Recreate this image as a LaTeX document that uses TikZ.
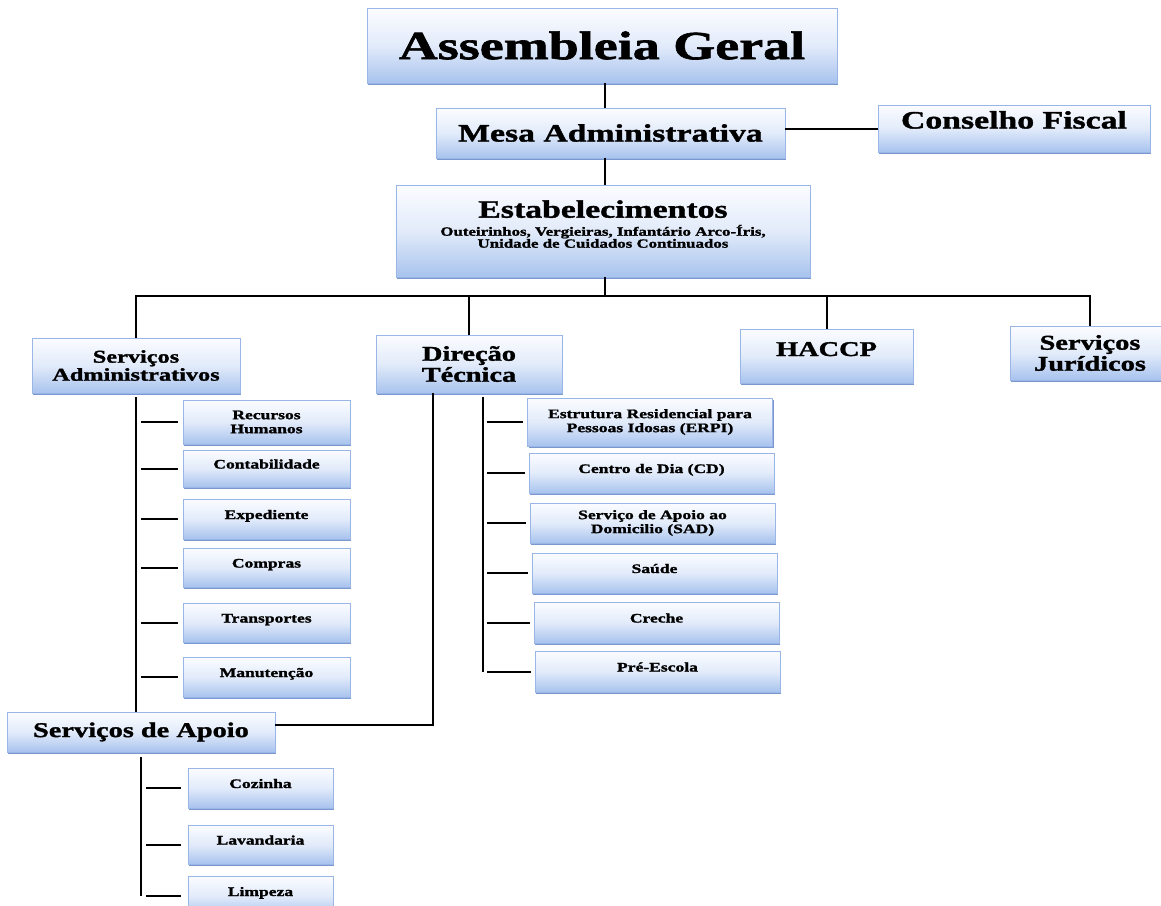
\documentclass[tikz,border=0pt]{standalone}
\usepackage{fontspec}
\usetikzlibrary{shadows}
\newfontfamily\orgfont[FakeStretch=1.35, BoldFeatures={FakeBold=1.5}]{Liberation Serif}
\definecolor{boxtop}{HTML}{FBFCFF}
\definecolor{boxmid}{HTML}{E2EBFA}
\definecolor{boxbot}{HTML}{A8C3EE}
\definecolor{boxline}{HTML}{9AB6E6}
\definecolor{boxshade}{HTML}{5A7DC4}

\begin{document}
\begin{tikzpicture}[x=1pt,y=-1pt,
	box/.style={draw=boxline, line width=0.8pt, top color=boxtop, bottom color=boxbot, middle color=boxmid, align=center, inner sep=1pt, text=black, drop shadow={shadow xshift=1.2pt, shadow yshift=-1.6pt, fill=boxshade, opacity=0.8}},
	fs/.style={font=\orgfont\bfseries\fontsize{#1}{#1}\selectfont},
	lift/.style={text height=#1, text depth=#1},
	adm/.style={box, fs=13, minimum width=167},
	tec/.style={box, fs=13, minimum width=245},
	apo/.style={box, fs=13, minimum width=145},
	link/.style={line width=2pt, black}]
		\useasboundingbox (0,0) rectangle (1161,905);
		\clip (0,0) rectangle (1161,905);
		
		% Top of the chart
			\node [box, fs=40, minimum width=470, minimum height=75] (ag) at (602,45.5) {Assembleia Geral};
			\node [box, fs=25, minimum width=349, minimum height=50] (mesa) at (610.5,133) {Mesa Administrativa};
			\node [box, fs=25, lift=9, minimum width=272, minimum height=47] (cf) at (1014,128.5) {Conselho Fiscal};
			\node [box, fs=25, minimum width=414, minimum height=92] (est) at (603,231) {Estabelecimentos\\[-7pt]\fontsize{12.5}{12.5}\selectfont Outeirinhos, Vergieiras, Infantário Arco-Íris,\\[-13pt]\fontsize{12.5}{12.5}\selectfont Unidade de Cuidados Continuados\\[-11pt]\mbox{}};
			
		% Services
			\node [box, fs=18, minimum width=208, minimum height=55] (sadm) at (136,365.5) {Serviços\\Administrativos};
			\node [box, fs=21, minimum width=186, minimum height=58] (dt) at (469,364) {Direção\\Técnica};
			\node [box, fs=21, lift=10, minimum width=173, minimum height=54] (haccp) at (826.5,356) {HACCP};
			\node [box, fs=21, minimum width=160, minimum height=54] (sjur) at (1090,353) {Serviços\\Jurídicos};
			\node [box, fs=21, minimum width=268, minimum height=40] (sapo) at (141,732) {Serviços de Apoio};
			
			\node [adm, minimum height=44] (rh) at (266.5,422) {Recursos\\[1pt]Humanos};
			\node [adm, lift=9, minimum height=37] (cont) at (266.5,468.5) {Contabilidade};
			\node [adm, lift=9, minimum height=40] (exp) at (266.5,519) {Expediente};
			\node [adm, lift=9, minimum height=39] (comp) at (266.5,567.5) {Compras};
			\node [adm, lift=9, minimum height=39] (transp) at (266.5,622.5) {Transportes};
			\node [adm, lift=9, minimum height=40] (manut) at (266.5,677) {Manutenção};
			
			\node [tec, minimum height=48] (erpi) at (650,422) {Estrutura Residencial para\\[1pt]Pessoas Idosas (ERPI)};
			\node [tec, lift=9, minimum height=40] (cd) at (651.5,473) {Centro de Dia (CD)};
			\node [tec, minimum height=40] (sad) at (652.5,523) {Serviço de Apoio ao\\[1pt]Domicilio (SAD)};
			\node [tec, lift=9, minimum height=40] (saude) at (654.5,573) {Saúde};
			\node [tec, lift=9, minimum height=41] (creche) at (656.5,622.5) {Creche};
			\node [tec, lift=9, minimum height=41] (pre) at (657.5,671.5) {Pré-Escola};
			
			\node [apo, lift=9, minimum height=40] (coz) at (260.5,788) {Cozinha};
			\node [apo, lift=9, minimum height=39] (lav) at (260.5,844.5) {Lavandaria};
			\node [apo, lift=9, minimum height=40] (limp) at (260.5,896) {Limpeza};
			
		% Lines
			\coordinate (spine) at (605,0);
			\coordinate (bus) at (0,296);
			\draw [link] (spine |- ag.south) -- (spine |- mesa.north);
			\draw [link] (spine |- mesa.south) -- (spine |- est.north);
			\draw [link] (cf.west -| mesa.east) -- (cf.west);
			\draw [link] (spine |- est.south) -- (spine |- bus);
			\draw [link] (sadm.north) |- (sjur.north |- bus) -- (sjur.north);
			\draw [link] (dt.north) -- (dt.north |- bus);
			\draw [link] (haccp.north) -- (haccp.north |- bus);
			
			\draw [link] ([yshift=-4pt]sadm.south) -- (sadm.south |- sapo.north);
			\foreach \b in {rh,cont,exp,comp,transp,manut}
				\draw [link] ([xshift=5pt]sadm.south |- \b.west) -- ([xshift=-5pt]\b.west);
			
			\draw [link] ([xshift=14pt,yshift=-4pt]dt.south) -- ([xshift=14pt]dt.south |- pre.west);
			\foreach \b in {erpi,cd,sad,saude,creche,pre}
				\draw [link] ([xshift=18pt]dt.south |- \b.west) -- ([xshift=-4pt]\b.west);
			\draw [link] ([xshift=-36pt]dt.south) |- ([yshift=7pt]sapo.east);
			
			\draw [link] ([yshift=-5pt]sapo.south) -- (sapo.south |- limp.west);
			\foreach \b in {coz,lav,limp}
				\draw [link] ([xshift=5pt]sapo.south |- \b.west) -- ([xshift=-7pt]\b.west);
			
		\end{tikzpicture}
\end{document}
